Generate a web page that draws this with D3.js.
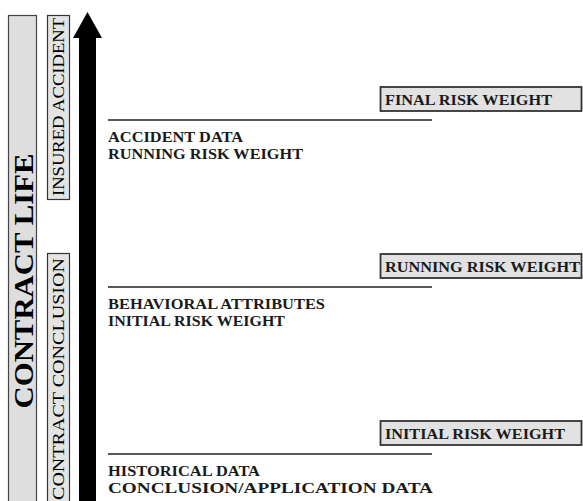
<!DOCTYPE html>
<html>
<head>
<meta charset="utf-8">
<script src="https://cdn.jsdelivr.net/npm/d3@7"></script>
<style>
  body { margin: 0; background: #fff; }
</style>
</head>
<body>
<div id="chart"></div>
<script>
// levels from bottom (contract conclusion) to top (insured accident)
var levels = [0, 1, 2];
var leftLines = [
    ["HISTORICAL DATA", "CONCLUSION/APPLICATION DATA"],
    ["BEHAVIORAL ATTRIBUTES", "INITIAL RISK WEIGHT"],
    ["ACCIDENT DATA", "RUNNING RISK WEIGHT"]
];
var rightLabels = ["INITIAL RISK WEIGHT", "RUNNING RISK WEIGHT", "FINAL RISK WEIGHT"];
var phases = ["CONTRACT CONCLUSION", "INSURED ACCIDENT"];
var axisTitle = "CONTRACT LIFE";

// measured widths so the text fills like the original
var leftWidths = [[152, 325], [217, 177], [135, 195]];
var rightWidths = [180, 195, 167];

var FONT = "'Liberation Serif', 'Times New Roman', Tinos, serif";
var W = 583, H = 501;
var svg = d3.select("#chart").append("svg")
    .attr("width", W)
    .attr("height", H)
    .attr("font-family", FONT);

var y = d3.scaleLinear().domain([0, 2]).range([454, 120]);

// big contract life bar
svg.append("rect")
    .attr("x", 8.5).attr("y", 15.5)
    .attr("width", 28).attr("height", H)
    .attr("fill", "#dedede").attr("stroke", "#444").attr("stroke-width", 1.2);
svg.append("text")
    .attr("transform", "translate(33, 281) rotate(-90)")
    .attr("text-anchor", "middle")
    .attr("font-family", FONT)
    .attr("font-size", 28).attr("font-weight", "bold")
    .attr("textLength", 255).attr("lengthAdjust", "spacingAndGlyphs")
    .text(axisTitle);

// phase boxes
var phaseBoxes = [
    {top: 253.5, bottom: H + 5, cy: 379, len: 242},
    {top: 15.5, bottom: 199.5, cy: 107, len: 178}
];
phaseBoxes.forEach(function(b, i) {
    svg.append("rect")
        .attr("x", 47.5).attr("y", b.top)
        .attr("width", 22).attr("height", b.bottom - b.top)
        .attr("fill", "#e4e4e4").attr("stroke", "#333").attr("stroke-width", 1.2);
    svg.append("text")
        .attr("transform", "translate(64, " + b.cy + ") rotate(-90)")
        .attr("text-anchor", "middle")
        .attr("font-family", FONT)
        .attr("font-size", 16)
        .attr("textLength", b.len).attr("lengthAdjust", "spacingAndGlyphs")
        .text(phases[i]);
});

// time arrow
svg.append("rect")
    .attr("x", 79).attr("y", 34)
    .attr("width", 17).attr("height", H)
    .attr("fill", "#000");
svg.append("path")
    .attr("d", d3.line()([[73, 38], [87.5, 12], [102, 38]]) + "Z")
    .attr("fill", "#000");

// level lines and labels
var g = svg.selectAll(".level")
    .data(levels)
    .join("g")
    .attr("class", "level")
    .attr("transform", d => `translate(0, ${y(d)})`);

g.append("line")
    .attr("x1", 108).attr("x2", 432)
    .attr("y1", 0).attr("y2", 0)
    .attr("stroke", "#222").attr("stroke-width", 1.5);

g.each(function(d) {
    var sel = d3.select(this);
    leftLines[d].forEach(function(t, k) {
        sel.append("text")
            .attr("x", 108).attr("y", 22 + k * 17)
            .attr("font-family", FONT)
            .attr("font-size", 14).attr("font-weight", "bold")
            .attr("fill", "#1a1a1a")
            .attr("textLength", leftWidths[d][k]).attr("lengthAdjust", "spacingAndGlyphs")
            .text(t);
    });
});

g.append("rect")
    .attr("x", 380.5).attr("y", -33)
    .attr("width", 201).attr("height", 24)
    .attr("fill", "#e2e2e2").attr("stroke", "#333").attr("stroke-width", 1.8);

g.append("text")
    .attr("x", 385).attr("y", -15.5)
    .attr("font-family", FONT)
    .attr("font-size", 14).attr("font-weight", "bold")
    .attr("fill", "#1a1a1a")
    .attr("textLength", d => rightWidths[d]).attr("lengthAdjust", "spacingAndGlyphs")
    .text(d => rightLabels[d]);
</script>
</body>
</html>
